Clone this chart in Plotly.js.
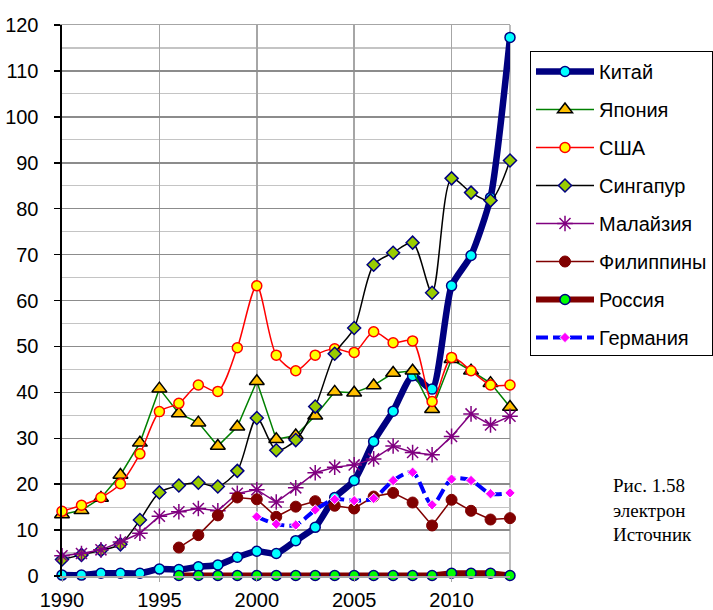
<!DOCTYPE html>
<html>
<head>
<meta charset="utf-8">
<script src="https://cdn.plot.ly/plotly-3.0.1.min.js"></script>
<style>html,body{margin:0;padding:0;background:#fff;}#chart{width:713px;height:610px;}</style>
</head>
<body>
<div id="chart"></div>
<script>
const years = [1990,1991,1992,1993,1994,1995,1996,1997,1998,1999,2000,2001,2002,2003,2004,2005,2006,2007,2008,2009,2010,2011,2012,2013];
const seriesNames = ["Китай","Япония","США","Сингапур","Малайзия","Филиппины","Россия","Германия"];
const china = [0.2,0.2,0.6,0.6,0.6,1.5,1.4,2.0,2.4,4.1,5.4,4.9,7.7,10.6,17.1,20.8,29.3,35.9,43.6,40.7,63.2,69.8,82.4,117.3];
const japan = [13.4,14.3,17.0,22.0,29.0,40.8,35.4,33.4,28.3,32.5,42.4,29.8,30.6,34.9,40.1,39.9,41.5,44.2,44.7,36.3,47.2,44.7,42.0,36.8];
const usa = [14.1,15.4,17.1,20.1,26.6,35.8,37.6,41.6,40.2,49.7,63.2,48.1,44.7,48.1,49.5,48.7,53.2,50.8,51.2,38.0,47.6,44.7,41.6,41.6];
const singapore = [3.6,4.6,5.6,6.9,12.2,18.2,19.7,20.3,19.5,22.9,34.4,27.4,29.6,36.9,48.4,54.0,67.8,70.4,72.6,61.7,86.6,83.5,81.8,90.5];
const malaysia = [4.4,4.9,5.7,7.4,9.3,13.0,14.0,14.7,14.2,18.0,18.8,16.1,19.2,22.5,23.7,24.2,25.5,28.3,26.9,26.4,30.4,35.3,32.9,34.8];
const philippines = [null,null,null,null,null,null,6.2,8.9,13.2,17.1,16.7,12.9,15.1,16.3,15.3,14.7,17.3,18.1,16.0,11.0,16.6,14.2,12.3,12.6];
const russia = [null,null,null,null,null,null,0.1,0.1,0.1,0.1,0.1,0.1,0.1,0.1,0.1,0.1,0.1,0.1,0.1,0.1,0.6,0.6,0.6,0.1];
const germany = [null,null,null,null,null,null,null,null,null,null,12.9,11.3,11.1,14.4,16.7,16.4,16.9,20.8,22.6,15.5,21.1,20.8,17.9,18.1];
const yTicks = [0,10,20,30,40,50,60,70,80,90,100,110,120];
const xTicks = [1990,1995,2000,2005,2010];
const captionLines = ["Рис. 1.58","электрон","Источник"];

const base = {x: years, mode: 'lines+markers', type: 'scatter', cliponaxis: false, connectgaps: false};
const traces = [
  Object.assign({}, base, {y: china, name: seriesNames[0], legendgroup: 'g0',
    line: {color: '#000080', width: 6.5, shape: 'spline', smoothing: 0.6},
    marker: {symbol: 'circle', size: 10, color: '#00ffff', line: {color: '#000080', width: 1.5}}}),
  Object.assign({}, base, {y: japan, name: seriesNames[1], legendgroup: 'g1',
    line: {color: '#008000', width: 1.5},
    marker: {symbol: 'triangle-up', size: 13, color: '#ffc000', line: {color: '#000000', width: 1.5}}}),
  Object.assign({}, base, {y: usa, name: seriesNames[2], legendgroup: 'g2',
    line: {color: '#ff0000', width: 1.5, shape: 'spline', smoothing: 0.8},
    marker: {symbol: 'circle', size: 10, color: '#ffff00', line: {color: '#ff0000', width: 1.5}}}),
  Object.assign({}, base, {y: singapore, name: seriesNames[3], legendgroup: 'g3',
    line: {color: '#000000', width: 1.5, shape: 'spline', smoothing: 0.8},
    marker: {symbol: 'diamond', size: 10, color: '#99cc00', line: {color: '#000080', width: 1.5}}}),
  Object.assign({}, base, {y: malaysia, name: seriesNames[4], legendgroup: 'g4',
    line: {color: '#800080', width: 1.5},
    marker: {symbol: 'asterisk-open', size: 13, color: '#800080', line: {color: '#800080', width: 1.5}}}),
  Object.assign({}, base, {y: philippines, name: seriesNames[5], legendgroup: 'g5',
    line: {color: '#800000', width: 1.5},
    marker: {symbol: 'circle', size: 11, color: '#800000', line: {color: '#800000', width: 1}}}),
  Object.assign({}, base, {y: russia, name: seriesNames[6], legendgroup: 'g6',
    line: {color: '#800000', width: 6},
    marker: {symbol: 'circle', size: 10, color: '#00ff00', line: {color: '#000080', width: 1.5}}}),
  Object.assign({}, base, {y: germany, name: seriesNames[7], legendgroup: 'g7',
    line: {color: '#0000ff', width: 4, dash: '12px,5px', shape: 'spline', smoothing: 0.8},
    marker: {symbol: 'diamond', size: 8, color: '#ff00ff', line: {color: '#ffffff', width: 1}}})
];

const L = 62, R = 510, T = 25, B = 576, W = 713, H = 610;
const px2x = v => (v - L) / (R - L);
const py2y = v => (B - v) / (B - T);

const layout = {
  width: W, height: H,
  margin: {l: L, r: W - R, t: T, b: H - B, pad: 0},
  paper_bgcolor: '#ffffff', plot_bgcolor: '#ffffff',
  font: {family: '"Liberation Sans", Arial, sans-serif', size: 20, color: '#000000'},
  showlegend: true,
  legend: {
    xref: 'container', yref: 'container',
    x: 530 / W, xanchor: 'left', y: 1 - 51 / H, yanchor: 'top',
    bgcolor: '#ffffff', bordercolor: '#000000', borderwidth: 1,
    font: {family: '"Liberation Sans", Arial, sans-serif', size: 20, color: '#000000'},
    traceorder: 'grouped', tracegroupgap: 9, itemwidth: 58, itemsizing: 'trace'
  },
  xaxis: {
    range: [1990, 2013], tickmode: 'array', tickvals: xTicks, ticktext: xTicks.map(String),
    showgrid: true, gridcolor: '#a6a6a6', gridwidth: 1.5,
    showline: true, linecolor: '#a6a6a6', linewidth: 1.5, mirror: true,
    ticks: 'outside', ticklen: 4, tickcolor: '#a6a6a6', ticklabelstandoff: 1,
    zeroline: false, fixedrange: true,
    tickfont: {size: 20, color: '#000000'}
  },
  yaxis: {
    range: [0, 120], tickmode: 'array', tickvals: yTicks, ticktext: yTicks.map(String),
    showgrid: true, gridcolor: '#8c8c8c', gridwidth: 1.5,
    minor: {dtick: 5, tick0: 0, showgrid: true, gridcolor: '#c4c4c4', gridwidth: 1.2, ticks: ''},
    showline: true, linecolor: '#000000', linewidth: 2.5,
    ticks: 'outside', ticklen: 6, tickcolor: '#000000', tickwidth: 1.5, ticklabelstandoff: 11,
    zeroline: false, fixedrange: true,
    tickfont: {size: 20, color: '#000000'}
  },
  shapes: [
    {type: 'line', xref: 'paper', yref: 'paper', x0: 1, x1: 1, y0: 0, y1: 1, line: {color: '#a6a6a6', width: 1.5}, layer: 'below'}
  ],
  annotations: [{
    text: captionLines.join('<br>'), xref: 'paper', yref: 'paper', x: px2x(611), xanchor: 'left',
    y: py2y(510), yanchor: 'middle', align: 'left', showarrow: false,
    font: {family: '"Liberation Serif", "Times New Roman", serif', size: 19, color: '#000000'}
  }]
};

Plotly.newPlot('chart', traces, layout, {displayModeBar: false, staticPlot: true});
</script>
</body>
</html>
